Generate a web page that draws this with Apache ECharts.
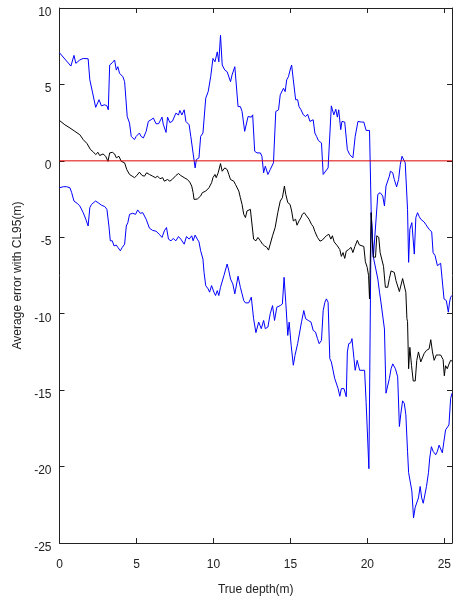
<!DOCTYPE html>
<html>
<head>
<meta charset="utf-8">
<script src="https://cdn.jsdelivr.net/npm/echarts@6/dist/echarts.min.js"></script>
<style>
  html, body { margin: 0; padding: 0; background: #fff; }
  #chart { width: 454px; height: 601px; }
</style>
</head>
<body>
<div id="chart"></div>
<script>
// Depth (m) vs average error (m): upper 95% bound, mean, lower 95% bound
const upperCL = [[0,7.07],[0.74,6.2],[0.94,6.9],[1.06,6.38],[1.32,6.6],[1.54,6.7],[1.66,6.6],[1.86,6.68],[1.97,5.3],[2.14,4.5],[2.35,3.5],[2.57,4.0],[2.72,3.6],[2.94,3.67],[3.08,3.6],[3.17,3.34],[3.26,6.27],[3.43,6.42],[3.58,6.6],[3.69,5.94],[3.79,6.16],[3.9,5.73],[4.12,5.5],[4.23,5.18],[4.34,5.3],[4.4,2.9],[4.55,2.47],[4.66,1.6],[4.87,1.39],[4.98,1.6],[5.19,1.82],[5.3,1.6],[5.45,1.5],[5.63,1.93],[5.77,2.58],[5.95,2.69],[6.1,2.8],[6.27,2.43],[6.44,2.43],[6.66,2.86],[6.74,2.4],[6.92,1.86],[7.02,2.86],[7.17,2.5],[7.34,2.6],[7.56,3.12],[7.73,3.0],[7.82,3.3],[7.95,3.0],[8.1,3.34],[8.21,2.58],[8.42,2.36],[8.53,1.6],[8.63,1.6],[8.81,-0.46],[8.89,0.08],[9.06,0.2],[9.17,1.6],[9.32,1.82],[9.5,4.1],[9.66,4.53],[9.82,5.5],[9.97,6.7],[10.1,6.48],[10.25,7.13],[10.35,6.48],[10.46,8.22],[10.57,6.27],[10.74,5.94],[10.89,5.83],[11.11,5.18],[11.21,5.62],[11.39,6.16],[11.6,3.55],[11.75,3.55],[11.86,3.23],[12.03,1.93],[12.12,1.93],[12.25,2.9],[12.46,2.86],[12.55,3.01],[12.68,0.63],[12.83,0.52],[13.05,0.52],[13.15,0.3],[13.26,-0.78],[13.37,-0.35],[13.54,-0.89],[13.69,-0.57],[13.9,-0.13],[14.05,3.23],[14.23,3.34],[14.34,4.32],[14.44,4.25],[14.55,4.75],[14.66,4.53],[14.76,5.3],[14.87,5.5],[14.98,5.94],[15.08,6.27],[15.19,5.3],[15.34,4.0],[15.47,4.0],[15.56,3.55],[15.69,3.34],[15.84,3.01],[15.99,2.9],[16.12,3.05],[16.27,2.58],[16.48,2.69],[16.59,1.82],[16.7,1.6],[16.81,1.34],[17.02,1.17],[17.13,-0.89],[17.24,-0.78],[17.45,-0.46],[17.66,3.6],[17.82,3.01],[17.95,3.38],[18.05,2.86],[18.14,3.34],[18.27,2.04],[18.35,2.58],[18.53,2.54],[18.7,0.74],[18.85,0.41],[19.06,0.2],[19.21,1.6],[19.39,2.58],[19.6,2.54],[19.77,2.54],[19.92,1.99],[20.14,1.99],[20.25,-3.39],[20.39,-6.3],[20.5,-6.3],[20.68,-2.19],[20.83,-2.08],[21.0,-2.3],[21.11,-2.95],[21.21,-1.65],[21.32,-1.54],[21.43,-1.0],[21.5,-0.68],[21.65,-0.78],[21.75,-1.22],[21.9,-1.7],[22.03,-1.22],[22.14,-0.24],[22.25,0.3],[22.35,0.35],[22.46,-0.13],[22.61,-3.17],[22.68,-6.64],[22.76,-4.47],[22.89,-4.04],[23.05,-6.1],[23.15,-3.71],[23.26,-3.39],[23.37,-3.65],[23.47,-3.82],[23.58,-3.93],[23.69,-4.0],[23.79,-4.15],[23.9,-4.32],[24.01,-4.47],[24.18,-4.65],[24.27,-6.0],[24.4,-6.2],[24.55,-6.86],[24.76,-6.7],[24.87,-6.7],[24.98,-9.03],[25.13,-9.14],[25.26,-9.9],[25.34,-9.24],[25.41,-8.92],[25.5,-8.8]];

const meanError = [[0,2.64],[0.35,2.36],[0.68,2.15],[1.0,1.93],[1.32,1.71],[1.54,1.39],[1.79,1.13],[2.01,0.74],[2.18,0.6],[2.35,0.41],[2.5,0.56],[2.61,0.35],[2.83,0.45],[3.0,0.3],[3.15,-0.03],[3.26,0.52],[3.43,0.56],[3.58,0.45],[3.69,0.2],[3.86,0.3],[4.01,-0.03],[4.23,-0.13],[4.37,-0.57],[4.55,-0.89],[4.72,-1.0],[4.87,-1.1],[5.02,-0.96],[5.19,-0.74],[5.37,-0.96],[5.52,-1.0],[5.66,-0.78],[5.84,-0.89],[6.05,-1.0],[6.23,-1.1],[6.37,-1.0],[6.53,-1.17],[6.7,-1.1],[6.81,-1.33],[7.02,-1.22],[7.17,-1.33],[7.34,-1.2],[7.56,-0.96],[7.73,-0.83],[7.88,-0.96],[8.1,-1.1],[8.31,-1.22],[8.46,-1.39],[8.59,-1.65],[8.68,-2.08],[8.74,-2.52],[8.85,-2.52],[8.95,-2.5],[9.06,-2.52],[9.17,-2.3],[9.28,-2.08],[9.39,-2.19],[9.5,-1.98],[9.71,-1.76],[9.88,-1.43],[9.97,-1.1],[10.1,-0.89],[10.18,-1.1],[10.31,-0.78],[10.46,-0.18],[10.57,-0.68],[10.74,-0.46],[10.89,-0.57],[11.0,-0.89],[11.11,-1.22],[11.32,-1.33],[11.43,-1.54],[11.65,-1.98],[11.75,-2.41],[11.86,-2.85],[11.97,-3.5],[12.08,-3.71],[12.18,-3.28],[12.4,-3.17],[12.5,-3.28],[12.61,-5.12],[12.76,-5.23],[12.89,-5.01],[13.05,-5.23],[13.19,-5.45],[13.32,-5.56],[13.47,-5.66],[13.58,-5.84],[13.69,-5.45],[13.84,-4.9],[14.01,-4.36],[14.18,-3.39],[14.34,-2.63],[14.48,-2.41],[14.61,-1.65],[14.7,-2.19],[14.83,-2.73],[14.98,-2.85],[15.08,-3.28],[15.19,-3.93],[15.34,-3.82],[15.43,-4.21],[15.56,-3.93],[15.69,-3.71],[15.77,-3.5],[15.9,-3.39],[16.05,-3.6],[16.21,-3.82],[16.37,-4.15],[16.48,-4.3],[16.59,-4.62],[16.76,-5.01],[16.92,-5.25],[17.06,-5.2],[17.19,-5.05],[17.34,-4.9],[17.5,-4.8],[17.63,-5.12],[17.73,-4.9],[17.84,-5.3],[17.94,-5.25],[18.05,-5.56],[18.21,-5.8],[18.31,-6.25],[18.42,-6.0],[18.53,-6.38],[18.63,-5.9],[18.76,-5.82],[18.94,-5.66],[19.06,-6.0],[19.19,-5.6],[19.35,-5.2],[19.48,-5.5],[19.6,-5.56],[19.77,-5.6],[19.87,-6.6],[19.99,-6.97],[20.08,-7.51],[20.14,-9.03],[20.19,-9.03],[20.25,-3.39],[20.31,-5.1],[20.39,-6.3],[20.53,-6.3],[20.61,-4.9],[20.74,-5.0],[20.83,-6.0],[20.95,-5.9],[21.05,-6.9],[21.17,-8.27],[21.32,-8.27],[21.43,-7.7],[21.54,-7.2],[21.65,-7.08],[21.75,-7.3],[21.86,-7.84],[21.97,-7.8],[22.08,-8.55],[22.18,-8.5],[22.29,-7.7],[22.4,-7.7],[22.5,-8.6],[22.57,-10.33],[22.61,-10.5],[22.68,-13.6],[22.76,-12.2],[22.87,-13.4],[22.98,-14.4],[23.11,-14.4],[23.21,-13.05],[23.32,-12.5],[23.47,-13.15],[23.58,-13.15],[23.69,-12.6],[23.84,-12.4],[24.01,-12.3],[24.12,-11.7],[24.23,-12.5],[24.34,-13.05],[24.48,-12.7],[24.61,-12.7],[24.76,-12.7],[24.92,-13.0],[25.0,-14.06],[25.08,-13.4],[25.19,-13.6],[25.3,-13.3],[25.41,-13.05],[25.5,-13.1]];

const lowerCL = [[0,-1.76],[0.25,-1.69],[0.46,-1.69],[0.68,-1.76],[0.79,-2.08],[0.94,-2.63],[1.15,-2.78],[1.32,-2.95],[1.54,-3.39],[1.71,-3.82],[1.86,-4.26],[1.97,-3.06],[2.08,-2.85],[2.18,-2.95],[2.34,-2.63],[2.5,-2.73],[2.72,-2.9],[2.94,-2.99],[3.08,-3.17],[3.21,-4.26],[3.3,-5.23],[3.43,-5.23],[3.54,-5.56],[3.69,-5.51],[3.79,-5.66],[3.95,-5.88],[4.08,-5.66],[4.23,-5.45],[4.34,-4.26],[4.44,-4.04],[4.55,-3.5],[4.66,-3.6],[4.76,-3.43],[4.94,-3.5],[5.08,-3.21],[5.24,-3.43],[5.41,-3.39],[5.63,-3.82],[5.84,-4.4],[6.05,-4.55],[6.27,-4.6],[6.48,-4.8],[6.66,-5.01],[6.81,-4.58],[6.95,-4.36],[7.08,-5.12],[7.24,-5.23],[7.39,-5.08],[7.56,-5.23],[7.73,-4.95],[7.88,-5.12],[8.1,-5.45],[8.25,-4.95],[8.42,-5.12],[8.59,-4.9],[8.68,-5.23],[8.81,-4.86],[8.95,-5.12],[9.06,-5.3],[9.17,-5.88],[9.32,-6.43],[9.39,-7.29],[9.5,-8.16],[9.66,-8.38],[9.75,-8.59],[9.88,-8.16],[10.03,-8.59],[10.14,-8.81],[10.25,-8.49],[10.35,-8.81],[10.46,-8.27],[10.57,-8.3],[10.68,-7.51],[10.79,-7.51],[10.89,-6.75],[11.0,-7.19],[11.11,-7.73],[11.26,-8.05],[11.39,-8.7],[11.47,-8.8],[11.6,-7.55],[11.75,-8.27],[11.86,-8.7],[11.97,-9.14],[12.08,-9.29],[12.29,-9.29],[12.46,-8.92],[12.61,-10.33],[12.76,-11.24],[12.94,-10.55],[13.11,-10.98],[13.26,-10.44],[13.37,-10.98],[13.54,-10.87],[13.69,-10.0],[13.84,-9.47],[13.97,-10.44],[14.12,-9.57],[14.34,-9.47],[14.48,-9.36],[14.59,-7.62],[14.7,-9.25],[14.83,-11.42],[14.92,-10.55],[15.05,-12.07],[15.19,-13.37],[15.3,-12.72],[15.47,-11.96],[15.55,-11.85],[15.73,-10.5],[15.87,-9.79],[15.99,-10.33],[16.16,-10.44],[16.34,-10.55],[16.48,-11.09],[16.63,-11.2],[16.76,-11.63],[16.87,-11.96],[17.02,-11.74],[17.13,-9.79],[17.24,-9.25],[17.34,-9.03],[17.45,-9.25],[17.56,-12.94],[17.66,-13.15],[17.77,-13.2],[17.88,-14.24],[17.99,-14.3],[18.1,-14.9],[18.21,-15.4],[18.31,-14.9],[18.48,-14.9],[18.63,-15.43],[18.7,-12.5],[18.79,-11.96],[18.92,-11.9],[19.0,-11.63],[19.13,-12.94],[19.21,-13.7],[19.34,-13.05],[19.39,-13.05],[19.5,-13.7],[19.82,-13.7],[19.92,-15.8],[20.03,-15.8],[20.1,-20.14],[20.19,-20.14],[20.25,-3.39],[20.39,-6.3],[20.5,-6.3],[20.68,-7.73],[20.79,-8.59],[20.89,-9.3],[21.0,-9.36],[21.11,-11.0],[21.21,-15.2],[21.32,-15.15],[21.43,-14.24],[21.54,-13.6],[21.65,-13.28],[21.82,-13.6],[21.97,-14.13],[22.08,-17.38],[22.18,-16.5],[22.29,-15.7],[22.4,-15.87],[22.5,-16.6],[22.61,-19.0],[22.68,-20.4],[22.76,-20.4],[22.89,-21.6],[23.0,-23.35],[23.11,-22.66],[23.2,-22.66],[23.32,-22.05],[23.43,-21.3],[23.53,-22.05],[23.63,-22.4],[23.75,-22.3],[23.84,-21.3],[23.97,-20.4],[24.05,-19.45],[24.16,-18.7],[24.27,-19.0],[24.44,-19.23],[24.55,-19.0],[24.66,-18.6],[24.76,-18.47],[24.87,-19.1],[24.98,-19.0],[25.08,-17.6],[25.19,-17.7],[25.3,-17.28],[25.41,-15.54],[25.5,-15.2]];

// zero-error reference line
const zeroLine = [[0, 0], [25.5, 0]];

const depthRange = [0, 25.5];
const errorRange = [-25, 10];

const font = '"Liberation Sans", Arial, sans-serif';
const axisColor = '#222';

function frameAxis(position, isX) {
  return {
    type: 'value',
    position: position,
    min: isX ? depthRange[0] : errorRange[0],
    max: isX ? depthRange[1] : errorRange[1],
    interval: 5,
    axisLine: { show: true, onZero: false, lineStyle: { color: axisColor, width: 1 } },
    axisTick: { show: true, inside: true, length: 5, lineStyle: { color: axisColor } },
    axisLabel: { show: false },
    splitLine: { show: false }
  };
}

const chart = echarts.init(document.getElementById('chart'), null, { renderer: 'canvas' });

chart.setOption({
  animation: false,
  backgroundColor: '#fff',
  grid: { left: 59.5, right: -1, top: 8, bottom: 56, containLabel: false },
  xAxis: [
    {
      type: 'value',
      position: 'bottom',
      min: depthRange[0],
      max: depthRange[1],
      interval: 5,
      name: 'True depth(m)',
      nameLocation: 'middle',
      nameGap: 41,
      nameTextStyle: { fontFamily: font, fontSize: 12, color: axisColor },
      axisLine: { show: true, onZero: false, lineStyle: { color: axisColor, width: 1 } },
      axisTick: { show: true, inside: true, length: 5, lineStyle: { color: axisColor } },
      axisLabel: { fontFamily: font, fontSize: 12, color: axisColor, margin: 16, showMaxLabel: false },
      splitLine: { show: false }
    },
    frameAxis('top', true)
  ],
  yAxis: [
    {
      type: 'value',
      position: 'left',
      min: errorRange[0],
      max: errorRange[1],
      interval: 5,
      name: 'Average error with CL95(m)',
      nameLocation: 'middle',
      nameGap: 35,
      nameRotate: 90,
      nameTextStyle: { fontFamily: font, fontSize: 12, color: axisColor },
      axisLine: { show: true, onZero: false, lineStyle: { color: axisColor, width: 1 } },
      axisTick: { show: true, inside: true, length: 5, lineStyle: { color: axisColor } },
      axisLabel: { fontFamily: font, fontSize: 12, color: axisColor, margin: 8, verticalAlign: 'top', lineHeight: 9 },
      splitLine: { show: false }
    },
    frameAxis('right', false)
  ],
  series: [
    {
      name: 'Upper CL95',
      type: 'line',
      data: upperCL,
      showSymbol: false,
      symbol: 'none',
      lineStyle: { color: '#0000ff', width: 1 },
      z: 2
    },
    {
      name: 'Lower CL95',
      type: 'line',
      data: lowerCL,
      showSymbol: false,
      symbol: 'none',
      lineStyle: { color: '#0000ff', width: 1 },
      z: 2
    },
    {
      name: 'Mean error',
      type: 'line',
      data: meanError,
      showSymbol: false,
      symbol: 'none',
      lineStyle: { color: '#000000', width: 1 },
      z: 3
    },
    {
      name: 'Zero',
      type: 'line',
      data: zeroLine,
      showSymbol: false,
      symbol: 'none',
      lineStyle: { color: '#e00000', width: 1 },
      z: 4
    }
  ]
});
</script>
</body>
</html>
